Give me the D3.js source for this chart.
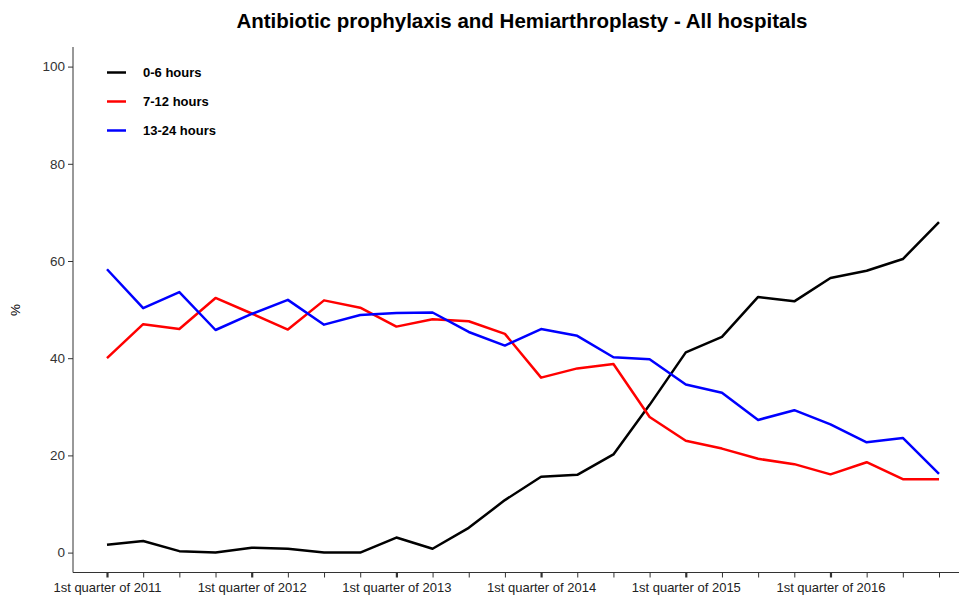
<!DOCTYPE html>
<html>
<head>
  <title>Antibiotic prophylaxis and Hemiarthroplasty</title>
  <script src="https://d3js.org/d3.v7.min.js"></script>
  <style>
    body { margin: 0; background: #fff; }
    text { font-family: "Liberation Sans", Arial, sans-serif; }
  </style>
</head>
<body>
<script>
// quarters Q1 2011 .. Q4 2016
var quarters = d3.range(24);
var tickYears = ["2011", "2012", "2013", "2014", "2015", "2016"];

var hours0to6 = [1.6, 2.4, 0.3, 0, 1.0, 0.8, 0, 0, 3.1, 0.8, 5.1, 10.8,
  15.6, 16.0, 20.2, 30.4, 41.2, 44.4, 52.6, 51.7, 56.5, 58.0, 60.4, 68.0];
var hours7to12 = [40.0, 47.0, 46.0, 52.4, 49.2, 45.9, 51.9, 50.4, 46.5, 48.0, 47.6, 45.0,
  36.0, 37.9, 38.8, 27.9, 23.0, 21.4, 19.3, 18.2, 16.1, 18.6, 15.1, 15.1];
var hours13to24 = [58.3, 50.3, 53.6, 45.8, 49.1, 52.0, 46.9, 48.9, 49.3, 49.4, 45.4, 42.6,
  46.0, 44.6, 40.2, 39.8, 34.6, 32.9, 27.3, 29.3, 26.4, 22.7, 23.6, 16.2];

var seriesNames = ["0-6 hours", "7-12 hours", "13-24 hours"];
var seriesColors = ["#000000", "#ff0000", "#0000ff"];
var seriesData = [hours0to6, hours7to12, hours13to24];

var width = 959, height = 597;
var svg = d3.select("body").append("svg")
  .attr("width", width).attr("height", height);

var x = d3.scaleLinear().domain([0, 23]).range([107, 939]);
var y = d3.scaleLinear().domain([0, 100]).range([552.6, 66.6]);

// title
svg.append("text")
  .attr("x", 522).attr("y", 28)
  .attr("text-anchor", "middle")
  .style("font-size", "20.5px").style("font-weight", "bold")
  .text("Antibiotic prophylaxis and Hemiarthroplasty - All hospitals");

// y axis
var yAxis = svg.append("g")
  .attr("transform", "translate(73,0)")
  .call(d3.axisLeft(y).tickValues([0, 20, 40, 60, 80, 100]).tickSize(5).tickPadding(3));
yAxis.select(".domain").attr("d", "M0,47V572.5").attr("stroke", "#333");
yAxis.selectAll(".tick line").attr("stroke", "#333");
yAxis.selectAll(".tick text").style("font-size", "13.5px").attr("fill", "#333")
  .style("font-family", "'Liberation Sans', Arial, sans-serif");

// x axis
var xAxis = svg.append("g")
  .attr("transform", "translate(0,572.5)")
  .call(d3.axisBottom(x).tickValues(quarters).tickSize(5)
    .tickFormat(function(d) { return d % 4 === 0 ? "1st quarter of " + tickYears[d / 4] : ""; }));
xAxis.select(".domain").attr("d", "M73,0H959").attr("stroke", "#333");
xAxis.selectAll(".tick line").attr("stroke", "#333")
  .attr("stroke-width", function(d) { return d % 4 === 0 ? 2.2 : 1; });
xAxis.selectAll(".tick text").style("font-size", "13px").attr("fill", "#222")
  .attr("y", 10)
  .style("font-family", "'Liberation Sans', Arial, sans-serif");

// y label
svg.append("text")
  .attr("transform", "translate(20,310) rotate(-90)")
  .attr("text-anchor", "middle")
  .style("font-size", "13.5px")
  .text("%");

// lines
var line = d3.line()
  .x(function(d, i) { return x(quarters[i]); })
  .y(function(d) { return y(d); });

seriesData.forEach(function(s, k) {
  svg.append("path")
    .datum(s)
    .attr("d", line)
    .attr("fill", "none")
    .attr("stroke", seriesColors[k])
    .attr("stroke-width", 2.5)
    .attr("stroke-linejoin", "round");
});

// legend
var legend = svg.append("g");
seriesNames.forEach(function(name, k) {
  var ly = 72.5 + k * 29;
  legend.append("line")
    .attr("x1", 107).attr("x2", 126).attr("y1", ly).attr("y2", ly)
    .attr("stroke", seriesColors[k]).attr("stroke-width", 2.5);
  legend.append("text")
    .attr("x", 143).attr("y", ly + 4.5)
    .style("font-size", "13px").style("font-weight", "bold")
    .text(name);
});
</script>
</body>
</html>
